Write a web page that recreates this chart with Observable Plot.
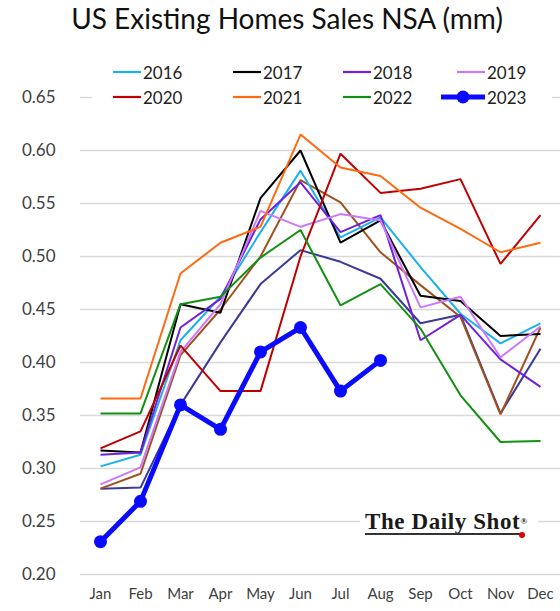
<!DOCTYPE html>
<html><head><meta charset="utf-8">
<script src="https://cdn.jsdelivr.net/npm/d3@7"></script>
<script src="https://cdn.jsdelivr.net/npm/@observablehq/plot@0.6"></script>
<style>
body{margin:0;background:#fff;}
#wrap{position:relative;width:560px;height:611px;font-family:Lato,"Open Sans",sans-serif;overflow:hidden;}
#title{position:absolute;left:0;top:1px;width:574px;text-align:center;font-size:28px;color:#111;white-space:nowrap;}
#legend{position:absolute;left:92px;top:58px;width:460px;height:52px;background:#fff;}
.item{position:absolute;display:flex;align-items:center;font-size:17px;color:#222;height:24px;}
.item svg{display:block;margin-right:2px;}
#chart{position:absolute;left:0;top:0;}
#logobg{position:absolute;left:360px;top:510px;width:178px;height:30px;background:#fff;}
#logo{position:absolute;left:365px;top:510px;font-family:"Liberation Serif","DejaVu Serif",serif;font-weight:bold;font-size:23px;color:#1a1a1a;letter-spacing:0.6px;line-height:24px;white-space:nowrap;}
#logo sup{font-size:9px;vertical-align:top;position:relative;top:-1px;margin-left:0px;letter-spacing:0;}
#uline{position:absolute;left:365px;top:533px;width:156px;height:2px;background:#333;}
#dot{position:absolute;left:519px;top:532px;width:6px;height:6px;border-radius:50%;background:#e00000;}
</style></head>
<body>
<div id="wrap">
  <div id="chart"></div>
  <div id="title">US Existing Homes Sales NSA (mm)</div>
  <div id="legend"></div>
  <div id="logobg"></div>
  <div id="logo">The Daily Shot<sup>®</sup></div>
  <div id="uline"></div>
  <div id="dot"></div>
</div>
<script>
const months = ["Jan","Feb","Mar","Apr","May","Jun","Jul","Aug","Sep","Oct","Nov","Dec"];
const s2014 = [0.281,0.282,0.360,0.419,0.474,0.506,0.495,0.479,0.437,0.445,0.352,0.413];
const s2015 = [0.281,0.295,0.407,0.450,0.500,0.572,0.551,0.504,0.473,0.443,0.351,0.433];
const s2016 = [0.302,0.313,0.421,0.462,0.523,0.581,0.518,0.537,0.490,0.446,0.418,0.437];
const s2017 = [0.317,0.315,0.455,0.447,0.555,0.600,0.513,0.534,0.463,0.458,0.425,0.427];
const s2018 = [0.313,0.315,0.433,0.460,0.535,0.570,0.523,0.539,0.421,0.445,0.403,0.377];
const s2019 = [0.285,0.301,0.410,0.455,0.543,0.528,0.540,0.534,0.452,0.462,0.405,0.434];
const s2020 = [0.319,0.335,0.416,0.373,0.373,0.500,0.597,0.560,0.564,0.573,0.493,0.539];
const s2021 = [0.366,0.366,0.484,0.513,0.528,0.615,0.584,0.576,0.546,0.526,0.504,0.513];
const s2022 = [0.352,0.352,0.455,0.462,0.499,0.525,0.454,0.474,0.432,0.369,0.325,0.326];
const s2023 = [0.231,0.269,0.360,0.337,0.410,0.433,0.373,0.402];
const yTicks = [0.20,0.25,0.30,0.35,0.40,0.45,0.50,0.55,0.60,0.65];

const series = [
  {name:"2014", values:s2014, color:"#3a3a98", width:2, legend:false},
  {name:"2015", values:s2015, color:"#a0521e", width:2, legend:false},
  {name:"2016", values:s2016, color:"#1ab2ee", width:2, legend:true},
  {name:"2017", values:s2017, color:"#000000", width:2, legend:true},
  {name:"2018", values:s2018, color:"#7020dc", width:2, legend:true},
  {name:"2019", values:s2019, color:"#cc77ff", width:2, legend:true},
  {name:"2020", values:s2020, color:"#c00000", width:2, legend:true},
  {name:"2021", values:s2021, color:"#ff6a10", width:2, legend:true},
  {name:"2022", values:s2022, color:"#139013", width:2, legend:true},
  {name:"2023", values:s2023, color:"#0a0aff", width:5, legend:true, dots:true}
];
const table = s => s.values.map((v,i)=>({month:months[i], value:v, series:s.name}));

const marks = [Plot.gridY(yTicks, {stroke:"#d9d9d9", strokeOpacity:1, strokeWidth:1.3})];
for (const s of series) {
  marks.push(Plot.line(table(s), {x:"month", y:"value", stroke:s.color, strokeWidth:s.width, strokeLinejoin:"miter", strokeLinecap:"butt"}));
  if (s.dots) marks.push(Plot.dot(table(s), {x:"month", y:"value", fill:s.color, r:6.5, stroke:"none"}));
}

const chart = Plot.plot({
  width:560, height:611,
  marginTop:97, marginBottom:37, marginLeft:80, marginRight:0,
  style:{fontFamily:"Lato, 'Open Sans', sans-serif", background:"transparent", color:"#333"},
  x:{type:"point", domain:months, padding:0.5, label:null, tickSize:0, tickPadding:14},
  y:{domain:[0.2,0.65], ticks:yTicks, tickFormat:d3.format(".2f"), label:null, tickSize:0, tickPadding:25},
  marks:[
    ...marks,
    Plot.axisX({tickSize:0, tickPadding:14, fontSize:15, fill:"#404040", label:null}),
    Plot.axisY(yTicks, {tickSize:0, tickPadding:25, fontSize:17, fill:"#404040", tickFormat:d3.format(".2f"), label:null})
  ]
});
document.getElementById("chart").appendChild(chart);

// legend
const legend = document.getElementById("legend");
const textX = [143,263,373,487];
const rowY = [72,97];
series.filter(s=>s.legend).forEach((s,i)=>{
  const col = i%4, row = Math.floor(i/4);
  const sw = s.dots ? 44 : 28;
  const div = document.createElement("div");
  div.className = "item";
  div.style.left = (textX[col]-sw-2-92)+"px";
  div.style.top = (rowY[row]-12-58)+"px";
  const svg = d3.create("svg").attr("width",sw).attr("height",14);
  svg.append("line").attr("x1",0).attr("x2",sw).attr("y1",7).attr("y2",7)
     .attr("stroke",s.color).attr("stroke-width",s.dots?5:2.2);
  if (s.dots) svg.append("circle").attr("cx",sw/2).attr("cy",7).attr("r",6.5).attr("fill",s.color);
  div.appendChild(svg.node());
  const t = document.createElement("span");
  t.textContent = s.name;
  div.appendChild(t);
  legend.appendChild(div);
});
</script>
</body></html>
